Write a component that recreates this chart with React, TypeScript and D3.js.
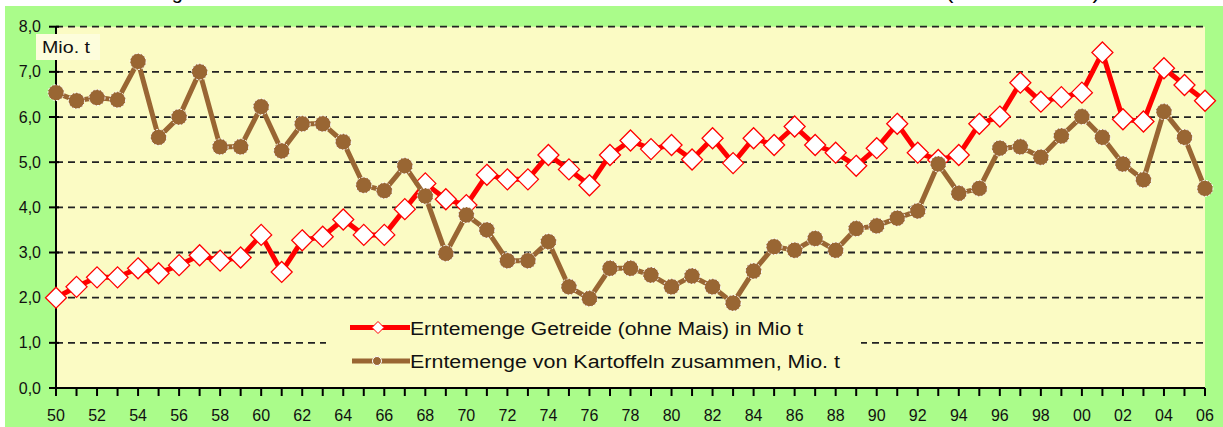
import React from "react";
import * as d3 from "d3";

// Erntemengen 1950 - 2006, Mio. t
const years = d3.range(1950, 2007);
const yearLabels = years.filter((y) => y % 2 === 0).map((y) => String(y).slice(2));

const getreide = [
  2.0, 2.24, 2.45, 2.45, 2.65, 2.54, 2.72, 2.94, 2.82, 2.89,
  3.39, 2.57, 3.27, 3.35, 3.73, 3.39, 3.39, 3.96, 4.53, 4.18,
  4.05, 4.72, 4.62, 4.62, 5.16, 4.84, 4.49, 5.16, 5.48, 5.29,
  5.38, 5.06, 5.53, 4.98, 5.53, 5.38, 5.79, 5.38, 5.21, 4.92,
  5.31, 5.85, 5.21, 5.05, 5.16, 5.85, 6.01, 6.76, 6.34, 6.44,
  6.54, 7.43, 5.95, 5.9, 7.08, 6.71, 6.36,
];

const kartoffeln = [
  6.54, 6.36, 6.43, 6.38, 7.23, 5.55, 6.0, 7.0, 5.34, 5.34,
  6.23, 5.25, 5.85, 5.85, 5.45, 4.49, 4.37, 4.92, 4.25, 2.98,
  3.83, 3.5, 2.82, 2.82, 3.24, 2.24, 1.98, 2.65, 2.65, 2.5,
  2.24, 2.48, 2.24, 1.88, 2.59, 3.13, 3.05, 3.31, 3.05, 3.53,
  3.59, 3.76, 3.92, 4.96, 4.31, 4.42, 5.31, 5.34, 5.11, 5.58,
  6.01, 5.55, 4.96, 4.61, 6.12, 5.55, 4.42,
];

const yTicks = [0, 1, 2, 3, 4, 5, 6, 7, 8];
const seriesNames = [
  "Erntemenge Getreide (ohne Mais) in Mio t",
  "Erntemenge von Kartoffeln zusammen, Mio. t",
];

const W = 1223;
const H = 427;
const FONT = "'Liberation Sans', Arial, sans-serif";

const App = () => {
  const x = d3.scaleLinear().domain([1950, 2006]).range([56, 1205]);
  const y = d3.scaleLinear().domain([0, 8]).range([388, 26.7]);

  const line = d3
    .line<number>()
    .x((d, i) => x(years[i]))
    .y((d) => y(d));

  const diamond = (cx: number, cy: number, r: number) =>
    `M${cx},${cy - r}L${cx + r},${cy}L${cx},${cy + r}L${cx - r},${cy}Z`;

  return (
    <svg
      width={W}
      height={H}
      style={{ position: "absolute", left: 0, top: 0, background: "#fff" }}
      fontFamily={FONT}
    >
      {/* green frame */}
      <rect x={5} y={6} width={W - 5} height={H - 6} fill="#aafc8a" />
      {/* title, cut at the top like in the original */}
      <text y={-1} fontSize={20} fill="#000">
        <tspan x={85}>Erntemengen von Getreide und Kartoffeln in Deutschland</tspan>
        <tspan x={946} textLength={154} lengthAdjust="spacingAndGlyphs">(1950 bis 2006)</tspan>
      </text>

      {/* plot area */}
      <rect x={x(1950)} y={y(8)} width={x(2006) - x(1950)} height={y(0) - y(8)} fill="#fbfbc4" />

      {/* grid lines */}
      {yTicks.filter((t) => t > 0).map((t) => (
        <line
          key={t}
          x1={x(1950)}
          x2={x(2006)}
          y1={y(t)}
          y2={y(t)}
          stroke="#222"
          strokeWidth={1.8}
          strokeDasharray="7,5"
        />
      ))}

      {/* legend box */}
      <rect x={326} y={305} width={535} height={80} fill="#fbfbc4" />

      {/* axes */}
      <line x1={x(1950)} x2={x(1950)} y1={y(8)} y2={y(0) + 1} stroke="#000" strokeWidth={2} />
      <line x1={x(1950)} x2={x(2006)} y1={y(0)} y2={y(0)} stroke="#000" strokeWidth={2} />
      {yTicks.map((t) => (
        <g key={t}>
          <line x1={x(1950) - 7} x2={x(1950) + 3} y1={y(t)} y2={y(t)} stroke="#000" strokeWidth={2} />
          <text x={41} y={y(t) + 5.5} textAnchor="end" fontSize={16} fill="#111">
            {d3.format(".1f")(t).replace(".", ",")}
          </text>
        </g>
      ))}
      {years.map((yr) => (
        <line key={yr} x1={x(yr)} x2={x(yr)} y1={y(0)} y2={y(0) + 8} stroke="#000" strokeWidth={2} />
      ))}
      {yearLabels.map((lb, i) => (
        <text key={lb} x={x(1950 + i * 2)} y={421} textAnchor="middle" fontSize={16} fill="#111">
          {lb}
        </text>
      ))}

      {/* Mio. t label */}
      <rect x={36} y={34} width={64} height={26} fill="#fdfddc" />
      <text x={42} y={53} fontSize={16} fill="#111" textLength={48} lengthAdjust="spacingAndGlyphs">
        Mio. t
      </text>

      {/* Getreide */}
      <path d={line(getreide) || ""} fill="none" stroke="#ff0000" strokeWidth={5} />
      {getreide.map((v, i) => (
        <path
          key={i}
          d={diamond(x(years[i]), y(v), 10.5)}
          fill="#fff"
          stroke="#ff0000"
          strokeWidth={1.3}
        />
      ))}

      {/* Kartoffeln */}
      <path d={line(kartoffeln) || ""} fill="none" stroke="#996633" strokeWidth={5} />
      {kartoffeln.map((v, i) => (
        <circle
          key={i}
          cx={x(years[i])}
          cy={y(v)}
          r={8}
          fill="#996633"
          stroke="#fff"
          strokeWidth={1}
          strokeDasharray="2,1.5"
        />
      ))}

      {/* legend */}
      <line x1={350} x2={410} y1={327.5} y2={327.5} stroke="#ff0000" strokeWidth={5} />
      <path d={diamond(378, 327.5, 6)} fill="#fff" stroke="#ff0000" strokeWidth={1} />
      <text x={410} y={334.5} fontSize={18} fill="#111" textLength={393} lengthAdjust="spacingAndGlyphs">
        {seriesNames[0]}
      </text>
      <line x1={352} x2={410} y1={361} y2={361} stroke="#996633" strokeWidth={5} />
      <circle cx={377} cy={361} r={4.5} fill="#996633" stroke="#fff" strokeWidth={1} />
      <text x={410} y={368} fontSize={18} fill="#111" textLength={430} lengthAdjust="spacingAndGlyphs">
        {seriesNames[1]}
      </text>
    </svg>
  );
};

export default App;
